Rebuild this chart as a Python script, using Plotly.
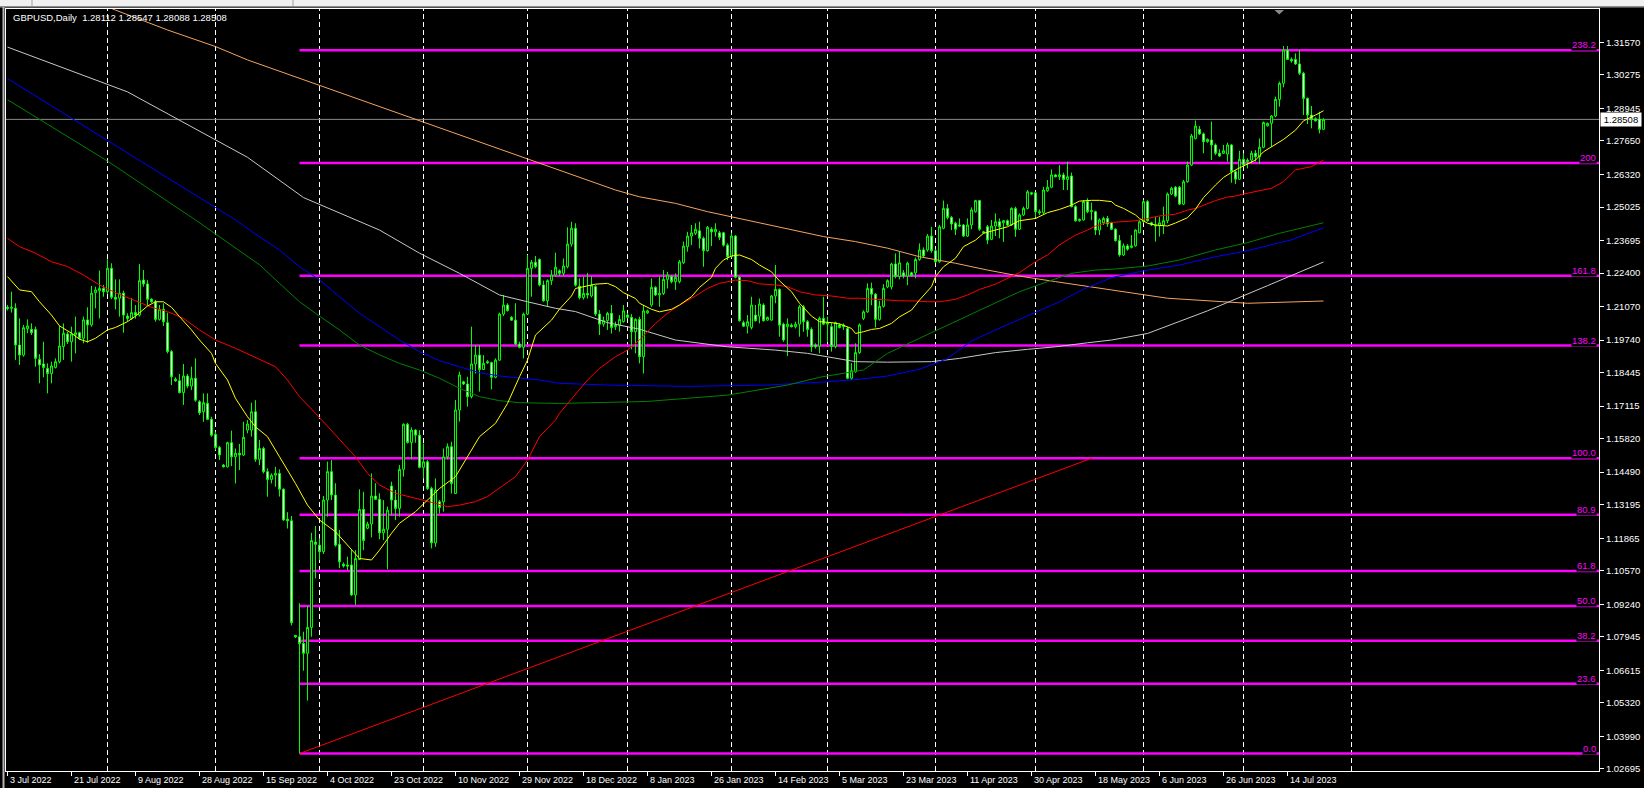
import plotly.graph_objects as go

# ---------------- data ----------------
bar_open = [
 1.2104,1.2100,1.2100,1.1954,1.1914,1.2019,1.2016,1.2016,1.1897,1.1879,
 1.1861,1.1841,1.1865,1.1888,1.1948,1.1998,1.1967,1.1994,1.2003,1.1981,
 1.2054,1.2034,1.2162,1.2170,1.2179,1.2166,1.2259,1.2144,1.2140,1.2160,
 1.2069,1.2060,1.2083,1.2073,1.2212,1.2197,1.2136,1.2126,1.2056,1.2096,
 1.2043,1.1928,1.1818,1.1812,1.1765,1.1831,1.1791,1.1822,1.1729,1.1689,
 1.1722,1.1659,1.1599,1.1547,1.1477,1.1470,1.1566,1.1510,1.1524,1.1517,
 1.1616,1.1616,1.1689,1.1500,1.1543,1.1451,1.1420,1.1437,1.1444,1.1381,
 1.1262,1.1256,1.0800,1.0795,1.0768,1.0729,1.0832,1.1171,1.1159,1.1133,
 1.1338,1.1451,1.1358,1.1162,1.1083,1.1080,1.1080,1.0961,1.1102,1.1301,
 1.1226,1.1243,1.1354,1.1341,1.1208,1.1222,1.1394,1.1338,1.1305,1.1460,
 1.1639,1.1567,1.1616,1.1596,1.1468,1.1490,1.1384,1.1168,1.1331,1.1331,
 1.1510,1.1550,1.1364,1.1696,1.1808,1.1799,1.1749,1.1879,1.1914,1.1857,
 1.1888,1.1884,1.1826,1.1894,1.2077,1.2113,1.2064,1.2053,1.1958,1.1945,
 1.2077,1.2259,1.2283,1.2294,1.2193,1.2130,1.2210,1.2232,1.2249,1.2239,
 1.2265,1.2355,1.2418,1.2188,1.2143,1.2159,1.2149,1.2186,1.2077,1.2037,
 1.2051,1.2080,1.2027,1.2033,1.2047,1.2073,1.2064,1.2007,1.2056,1.1908,
 1.2082,1.2113,1.2183,1.2153,1.2159,1.2215,1.2226,1.2206,1.2206,1.2281,
 1.2345,1.2387,1.2398,1.2408,1.2378,1.2329,1.2414,1.2404,1.2400,1.2400,
 1.2351,1.2305,1.2387,1.2223,1.2043,1.2029,1.2024,1.2073,1.2069,1.2113,
 1.2053,1.2053,1.2149,1.2175,1.2037,1.2027,1.2033,1.2027,1.2037,1.2106,
 1.2047,1.2016,1.1954,1.1950,1.2060,1.2037,1.2027,1.1948,1.2034,1.2027,
 1.2020,1.1822,1.1848,1.1924,1.2060,1.2086,1.2179,1.2156,1.2056,1.2108,
 1.2185,1.2185,1.2276,1.2226,1.2241,1.2228,1.2241,1.2241,1.2294,1.2332,
 1.2332,1.2387,1.2329,1.2285,1.2418,1.2497,1.2461,1.2438,1.2431,1.2431,
 1.2387,1.2431,1.2484,1.2528,1.2404,1.2424,1.2374,1.2427,1.2444,1.2440,
 1.2448,1.2431,1.2497,1.2414,1.2471,1.2497,1.2559,1.2559,1.2484,1.2480,
 1.2567,1.2581,1.2630,1.2623,1.2630,1.2612,1.2626,1.2504,1.2448,1.2451,
 1.2524,1.2484,1.2484,1.2411,1.2440,1.2457,1.2440,1.2414,1.2369,1.2312,
 1.2348,1.2342,1.2348,1.2400,1.2444,1.2524,1.2440,1.2431,1.2427,1.2431,
 1.2448,1.2554,1.2581,1.2581,1.2514,1.2603,1.2669,1.2775,1.2811,1.2793,
 1.2762,1.2769,1.2749,1.2716,1.2716,1.2713,1.2749,1.2643,1.2613,1.2692,
 1.2683,1.2689,1.2716,1.2702,1.2740,1.2825,1.2835,1.2864,1.2930,1.2994,
 1.3126,1.3089,1.3089,1.3071,1.3034,1.2934,1.2868,1.2853,1.2851,1.28112]
bar_high = [
 1.2113,1.2166,1.2120,1.2060,1.2034,1.2056,1.2040,1.2027,1.1918,1.1967,
 1.1881,1.1888,1.1901,1.2030,1.2040,1.2007,1.2027,1.2067,1.2007,1.2067,
 1.2104,1.2189,1.2186,1.2250,1.2193,1.2295,1.2279,1.2215,1.2215,1.2170,
 1.2080,1.2140,1.2113,1.2276,1.2252,1.2212,1.2140,1.2133,1.2113,1.2120,
 1.2083,1.1934,1.1826,1.1839,1.1879,1.1839,1.1868,1.1901,1.1735,1.1762,
 1.1762,1.1669,1.1610,1.1553,1.1481,1.1570,1.1614,1.1543,1.1561,1.1649,
 1.1656,1.1725,1.1735,1.1577,1.1550,1.1464,1.1444,1.1470,1.1460,1.1385,
 1.1290,1.1275,1.0802,1.0928,1.0815,1.0917,1.1208,1.1235,1.1186,1.1354,
 1.1491,1.1497,1.1405,1.1219,1.1090,1.1113,1.1139,1.1139,1.1381,1.1371,
 1.1252,1.1444,1.1405,1.1365,1.1338,1.1312,1.1411,1.1378,1.1477,1.1643,
 1.1645,1.1627,1.1620,1.1616,1.1563,1.1497,1.1391,1.1424,1.1338,1.1543,
 1.1563,1.1570,1.1736,1.1848,1.1812,1.1828,1.2027,1.1954,1.1954,1.1914,
 1.1894,1.1888,1.1901,1.2083,1.2153,1.2120,1.2069,1.2120,1.1967,1.2083,
 1.2312,1.2292,1.2308,1.2298,1.2210,1.2215,1.2252,1.2321,1.2255,1.2298,
 1.2422,1.2444,1.2438,1.2219,1.2226,1.2241,1.2228,1.2192,1.2093,1.2067,
 1.2086,1.2113,1.2047,1.2073,1.2113,1.2080,1.2077,1.2060,1.2067,1.2113,
 1.2095,1.2219,1.2188,1.2226,1.2252,1.2245,1.2232,1.2239,1.2292,1.2365,
 1.2404,1.2431,1.2438,1.2444,1.2385,1.2427,1.2422,1.2438,1.2408,1.2404,
 1.2358,1.2400,1.2391,1.2228,1.2051,1.2073,1.2146,1.2113,1.2139,1.2120,
 1.2067,1.2153,1.2272,1.2179,1.2043,1.2060,1.2040,1.2047,1.2113,1.2113,
 1.2053,1.2024,1.1961,1.2067,1.2146,1.2067,1.2043,1.2047,1.2040,1.2040,
 1.2027,1.1882,1.1961,1.2040,1.2092,1.2199,1.2202,1.2161,1.2130,1.2196,
 1.2215,1.2281,1.2318,1.2325,1.2252,1.2285,1.2245,1.2302,1.2358,1.2342,
 1.2395,1.2424,1.2334,1.2431,1.2528,1.2514,1.2467,1.2444,1.2457,1.2435,
 1.2457,1.2501,1.2530,1.2530,1.2408,1.2431,1.2451,1.2477,1.2457,1.2451,
 1.2453,1.2501,1.2504,1.2477,1.2504,1.2570,1.2563,1.2563,1.2493,1.2583,
 1.2610,1.2652,1.2634,1.2669,1.2639,1.2683,1.2639,1.2510,1.2457,1.2530,
 1.2537,1.2520,1.2488,1.2457,1.2464,1.2467,1.2444,1.2418,1.2391,1.2358,
 1.2355,1.2391,1.2414,1.2451,1.2530,1.2530,1.2444,1.2464,1.2464,1.2504,
 1.2560,1.2583,1.2586,1.2586,1.2610,1.2683,1.2793,1.2846,1.2824,1.2798,
 1.2775,1.2842,1.2755,1.2732,1.2749,1.2758,1.2753,1.2650,1.2726,1.2716,
 1.2696,1.2726,1.2729,1.2775,1.2842,1.2838,1.2868,1.2941,1.3001,1.3142,
 1.3142,1.3097,1.3113,1.3126,1.3040,1.2938,1.2904,1.2859,1.2881,1.28547]
bar_low = [
 1.2092,1.2083,1.1895,1.1875,1.1908,1.2001,1.1994,1.1868,1.1802,1.1826,
 1.1762,1.1802,1.1861,1.1881,1.1895,1.1958,1.1888,1.1921,1.1975,1.1961,
 1.1963,1.2027,1.2100,1.2060,1.2146,1.2157,1.2136,1.2096,1.2067,1.2003,
 1.2047,1.2054,1.2059,1.2067,1.2186,1.2109,1.2122,1.2047,1.2051,1.2030,
 1.1921,1.1795,1.1808,1.1762,1.1716,1.1782,1.1775,1.1729,1.1676,1.1649,
 1.1656,1.1590,1.1537,1.1497,1.1468,1.1468,1.1473,1.1404,1.1457,1.1513,
 1.1603,1.1590,1.1490,1.1477,1.1444,1.1351,1.1404,1.1391,1.1352,1.1256,
 1.1225,1.0840,1.0790,1.0331,1.0660,1.0541,1.0795,1.1027,1.1100,1.1124,
 1.1272,1.1338,1.1153,1.1067,1.1070,1.1060,1.0957,1.0921,1.1100,1.1139,
 1.1222,1.1190,1.1338,1.1182,1.1179,1.1063,1.1279,1.1259,1.1272,1.1431,
 1.1563,1.1500,1.1566,1.1464,1.1424,1.1378,1.1146,1.1152,1.1285,1.1292,
 1.1500,1.1364,1.1364,1.1650,1.1795,1.1709,1.1742,1.1841,1.1769,1.1855,
 1.1879,1.1778,1.1822,1.1892,1.2069,1.2087,1.2051,1.1954,1.1941,1.1901,
 1.2073,1.2146,1.2259,1.2187,1.2126,1.2106,1.2193,1.2226,1.2228,1.2228,
 1.2259,1.2345,1.2186,1.2135,1.2135,1.2139,1.2143,1.2069,1.1994,1.2027,
 1.2014,1.2000,1.2014,1.2007,1.2043,1.2060,1.1937,1.1921,1.1881,1.1841,
 1.2078,1.2106,1.2149,1.2106,1.2153,1.2179,1.2199,1.2173,1.2199,1.2276,
 1.2325,1.2351,1.2391,1.2338,1.2265,1.2325,1.2347,1.2385,1.2371,1.2345,
 1.2292,1.2302,1.2219,1.2047,1.2027,1.2000,1.2016,1.2047,1.2040,1.2047,
 1.2051,1.2051,1.2120,1.1987,1.1967,1.1910,1.2024,1.2020,1.1987,1.2007,
 1.1987,1.1927,1.1940,1.1921,1.2033,1.1967,1.1928,1.1941,1.2020,1.2014,
 1.1818,1.1815,1.1844,1.1919,1.2053,1.2082,1.2112,1.2024,1.2051,1.2103,
 1.2180,1.2175,1.2219,1.2215,1.2219,1.2192,1.2226,1.2219,1.2289,1.2302,
 1.2325,1.2321,1.2281,1.2281,1.2414,1.2453,1.2411,1.2391,1.2424,1.2384,
 1.2384,1.2414,1.2480,1.2408,1.2398,1.2355,1.2371,1.2387,1.2378,1.2364,
 1.2427,1.2427,1.2384,1.2411,1.2467,1.2493,1.2550,1.2461,1.2471,1.2475,
 1.2563,1.2577,1.2620,1.2610,1.2570,1.2570,1.2501,1.2444,1.2444,1.2448,
 1.2478,1.2450,1.2391,1.2391,1.2431,1.2424,1.2411,1.2365,1.2305,1.2308,
 1.2329,1.2338,1.2345,1.2398,1.2440,1.2444,1.2427,1.2365,1.2385,1.2395,
 1.2438,1.2550,1.2541,1.2510,1.2510,1.2599,1.2665,1.2771,1.2789,1.2716,
 1.2758,1.2689,1.2709,1.2702,1.2713,1.2683,1.2599,1.2594,1.2610,1.2663,
 1.2656,1.2676,1.2683,1.2673,1.2736,1.2822,1.2742,1.2859,1.2901,1.2978,
 1.3087,1.3076,1.3067,1.3027,1.2868,1.2832,1.2815,1.2842,1.2795,1.28088]
bar_close = [
 1.2100,1.2104,1.1954,1.1914,1.2023,1.2030,1.2003,1.1901,1.1875,1.1865,
 1.1841,1.1871,1.1888,1.1950,1.2001,1.1967,1.1998,1.2003,1.1981,1.2054,
 1.2034,1.2160,1.2173,1.2179,1.2166,1.2259,1.2144,1.2136,1.2160,1.2073,
 1.2060,1.2083,1.2073,1.2210,1.2197,1.2136,1.2126,1.2056,1.2096,1.2047,
 1.1928,1.1828,1.1812,1.1765,1.1831,1.1791,1.1822,1.1735,1.1685,1.1725,
 1.1659,1.1596,1.1547,1.1517,1.1470,1.1566,1.1510,1.1524,1.1517,1.1587,
 1.1640,1.1689,1.1500,1.1543,1.1451,1.1420,1.1437,1.1444,1.1381,1.1259,
 1.1256,1.0851,1.0795,1.0768,1.0729,1.0832,1.1177,1.1162,1.1133,1.1338,
 1.1451,1.1358,1.1159,1.1093,1.1076,1.1076,1.0961,1.1106,1.1301,1.1177,
 1.1243,1.1354,1.1341,1.1208,1.1222,1.1298,1.1338,1.1305,1.1460,1.1639,
 1.1567,1.1616,1.1596,1.1468,1.1490,1.1384,1.1168,1.1378,1.1309,1.1510,
 1.1550,1.1404,1.1696,1.1835,1.1799,1.1749,1.1879,1.1914,1.1857,1.1881,
 1.1884,1.1826,1.1894,1.2077,1.2113,1.2091,1.2053,1.1958,1.1945,1.2077,
 1.2259,1.2283,1.2266,1.2193,1.2130,1.2210,1.2232,1.2263,1.2239,1.2268,
 1.2355,1.2418,1.2192,1.2143,1.2159,1.2153,1.2192,1.2077,1.2037,1.2051,
 1.2080,1.2024,1.2033,1.2056,1.2090,1.2064,1.2007,1.2056,1.1908,1.2090,
 1.2090,1.2183,1.2153,1.2159,1.2215,1.2232,1.2206,1.2223,1.2285,1.2347,
 1.2387,1.2400,1.2414,1.2378,1.2329,1.2422,1.2404,1.2414,1.2382,1.2351,
 1.2305,1.2387,1.2223,1.2051,1.2029,1.2047,1.2113,1.2051,1.2117,1.2051,
 1.2064,1.2149,1.2175,1.2033,1.1974,1.2037,1.2027,1.2037,1.2106,1.2047,
 1.2016,1.1947,1.1947,1.2060,1.2037,1.2043,1.1948,1.2043,1.2024,1.2034,
 1.1822,1.1852,1.1924,1.2034,1.2086,1.2179,1.2156,1.2056,1.2108,1.2179,
 1.2210,1.2276,1.2226,1.2281,1.2228,1.2279,1.2230,1.2294,1.2332,1.2308,
 1.2387,1.2329,1.2285,1.2424,1.2497,1.2461,1.2435,1.2414,1.2427,1.2387,
 1.2431,1.2491,1.2528,1.2414,1.2400,1.2371,1.2427,1.2444,1.2424,1.2448,
 1.2431,1.2497,1.2414,1.2471,1.2497,1.2563,1.2554,1.2484,1.2480,1.2570,
 1.2581,1.2630,1.2623,1.2630,1.2612,1.2623,1.2504,1.2448,1.2453,1.2524,
 1.2484,1.2488,1.2411,1.2451,1.2457,1.2435,1.2414,1.2369,1.2312,1.2348,
 1.2335,1.2348,1.2411,1.2444,1.2524,1.2448,1.2431,1.2427,1.2440,1.2448,
 1.2554,1.2577,1.2546,1.2514,1.2603,1.2669,1.2785,1.2824,1.2793,1.2762,
 1.2771,1.2749,1.2716,1.2705,1.2726,1.2749,1.2643,1.2613,1.2692,1.2669,
 1.2689,1.2716,1.2702,1.2740,1.2838,1.2835,1.2864,1.2930,1.2994,1.3126,
 1.3089,1.3083,1.3071,1.3034,1.2934,1.2868,1.2851,1.2845,1.2811,1.28508]
bars = list(range(len(bar_close)))

# moving averages (bar index -> price)
ma_yellow_bars = [0,3,6,8,11,13,16,18,20,22,25,27,30,32,35,37,39,41,43,46,48,51,52,55,57,60,62,65,68,72,
                  75,78,82,85,88,91,93,96,98,102,105,108,112,115,118,122,125,128,130,132,136,138,141,142,145,
                  147,150,152,154,157,158,161,163,166,168,171,173,176,177,179,181,183,186,188,191,193,196,198,
                  201,203,206,208,211,212,214,216,218,221,223,226,228,231,232,234,237,239,242,244,247,250,253,
                  257,260,263,266,268,271,273,276,277,279,282,283,285,287,290,292,295,297,299,302,304,307,309,
                  312,314,317,319,322,324,327,329]
ma_yellow = [1.2226,1.2173,1.2166,1.2126,1.2073,1.2030,1.2001,1.1977,1.1967,1.1981,1.2014,1.2024,1.2047,1.2069,
             1.2109,1.2126,1.2126,1.2104,1.2067,1.2014,1.1974,1.1921,1.1881,1.1815,1.1742,1.1669,1.1629,1.1590,
             1.1510,1.1404,1.1318,1.1259,1.1212,1.1159,1.1106,1.1100,1.1139,1.1206,1.1246,1.1292,1.1338,1.1384,
             1.1431,1.1510,1.1590,1.1643,1.1722,1.1828,1.1894,1.1994,1.2053,1.2097,1.2149,1.2179,1.2188,1.2196,
             1.2199,1.2186,1.2162,1.2139,1.2120,1.2096,1.2086,1.2096,1.2113,1.2146,1.2183,1.2223,1.2259,1.2292,
             1.2308,1.2312,1.2294,1.2272,1.2245,1.2209,1.2166,1.2120,1.2069,1.2047,1.2043,1.2038,1.2020,1.2000,
             1.2007,1.2016,1.2020,1.2040,1.2066,1.2093,1.2133,1.2186,1.2226,1.2265,1.2299,1.2345,1.2371,1.2398,
             1.2411,1.2424,1.2448,1.2457,1.2480,1.2493,1.2510,1.2526,1.2529,1.2529,1.2524,1.2510,1.2497,1.2471,
             1.2457,1.2438,1.2431,1.2427,1.2439,1.2460,1.2494,1.2540,1.2590,1.2620,1.2650,1.2666,1.2689,1.2722,
             1.2753,1.2771,1.2808,1.2845,1.2868,1.2885]
ma_red_bars = [0,3,7,11,15,19,23,27,32,36,40,44,48,52,57,61,65,67,70,73,77,80,83,87,90,93,97,100,103,107,110,
               113,117,120,123,127,130,133,137,138,145,148,152,155,158,162,165,168,172,175,178,182,185,188,192,
               195,198,202,206,210,213,217,220,223,227,230,233,237,240,243,247,250,253,257,260,263,267,270,272,
               275,278,282,285,288,292,295,297,300,302,305,307,309,311,312,316,319,322,326,329]
ma_red = [1.2378,1.2345,1.2319,1.2285,1.2266,1.2232,1.2193,1.2162,1.2130,1.2104,1.2087,1.2060,1.2014,1.1974,
          1.1941,1.1911,1.1884,1.1868,1.1815,1.1749,1.1683,1.1630,1.1577,1.1510,1.1444,1.1398,1.1365,1.1352,
          1.1341,1.1325,1.1312,1.1318,1.1332,1.1352,1.1385,1.1431,1.1497,1.1590,1.1656,1.1683,1.1815,1.1861,
          1.1908,1.1934,1.1974,1.2040,1.2080,1.2113,1.2149,1.2179,1.2199,1.2212,1.2210,1.2197,1.2193,1.2186,
          1.2166,1.2153,1.2149,1.2140,1.2140,1.2136,1.2133,1.2130,1.2129,1.2126,1.2126,1.2136,1.2153,1.2175,
          1.2196,1.2219,1.2242,1.2285,1.2312,1.2352,1.2391,1.2411,1.2427,1.2440,1.2444,1.2448,1.2457,1.2467,
          1.2474,1.2490,1.2497,1.2516,1.2528,1.2542,1.2546,1.2554,1.2560,1.2564,1.2577,1.2603,1.2650,1.2663,
          1.2689]
ma_green_bars = [0,25,47,57,63,68,73,78,83,88,93,98,103,108,113,118,123,128,138,160,180,195,203,214,220,228,
                 237,245,253,260,266,272,276,285,293,302,310,318,329]
ma_green = [1.2929,1.2685,1.2451,1.2340,1.2273,1.2199,1.2126,1.2069,1.2014,1.1954,1.1915,1.1881,1.1855,1.1822,
            1.1782,1.1749,1.1733,1.1725,1.1722,1.1730,1.1755,1.1795,1.1826,1.1855,1.1921,1.1981,1.2047,1.2107,
            1.2166,1.2206,1.2239,1.2252,1.2255,1.2268,1.2292,1.2332,1.2361,1.2398,1.2440]
ma_blue_bars = [0,25,57,63,68,73,78,83,88,93,98,103,108,113,118,123,128,133,138,150,170,190,205,213,220,228,
                235,241,247,253,258,263,269,276,285,293,302,310,321,329]
ma_blue = [1.3013,1.2765,1.2451,1.2384,1.2332,1.2265,1.2213,1.2146,1.2080,1.2027,1.1974,1.1928,1.1892,1.1868,
           1.1844,1.1831,1.1822,1.1815,1.1802,1.1795,1.1790,1.1795,1.1808,1.1818,1.1831,1.1858,1.1900,1.1970,
           1.2014,1.2057,1.2093,1.2126,1.2176,1.2222,1.2252,1.2272,1.2305,1.2329,1.2372,1.2420]
ma_white_bars = [0,30,60,74,93,103,113,123,130,137,142,150,158,167,180,192,200,205,212,220,231,238,247,255,
                 262,270,276,285,300,315,329]
ma_white = [1.3138,1.2960,1.2700,1.2540,1.2411,1.2319,1.2239,1.2153,1.2126,1.2100,1.2087,1.2043,1.2017,1.1974,
            1.1947,1.1934,1.1921,1.1908,1.1888,1.1886,1.1888,1.1901,1.1924,1.1937,1.1947,1.1963,1.1974,1.2000,
            1.2090,1.2190,1.2284]
ma_orange_bars = [20,27,40,52,60,100,130,152,158,167,175,183,192,200,204,212,220,228,237,245,253,262,270,276,
                  290,310,329]
ma_orange = [1.3330,1.3285,1.3206,1.3140,1.3087,1.2862,1.2693,1.2570,1.2543,1.2517,1.2484,1.2457,1.2424,1.2400,
             1.2385,1.2365,1.2339,1.2305,1.2279,1.2252,1.2228,1.2206,1.2186,1.2173,1.2140,1.2120,1.2129]

# Fibonacci object (anchors) and its levels
fib_anchor_bars = [73, 271]
fib_anchor_prices = [1.0331, 1.1504]
fib_ratios = [0.0, 23.6, 38.2, 50.0, 61.8, 80.9, 100.0, 138.2, 161.8, 200.0, 238.2]
fib_labels = ["0.0", "23.6", "38.2", "50.0", "61.8", "80.9", "100.0", "138.2", "161.8", "200", "238.2"]

current_price = 1.28508
chart_title = "GBPUSD,Daily\u00a0 1.28112 1.28547 1.28088 1.28508"

price_ticks = [1.31570, 1.30275, 1.28945, 1.27650, 1.26320, 1.25025, 1.23695, 1.22400, 1.21070, 1.19740,
               1.18445, 1.17115, 1.15820, 1.14490, 1.13195, 1.11865, 1.10570, 1.09240, 1.07945, 1.06615,
               1.05320, 1.03990, 1.02695]
date_label_bars = [0, 16, 32, 48, 64, 80, 96, 112, 128, 144, 160, 176, 192, 208, 224, 240, 256, 272, 288, 304, 320]
date_labels = ["3 Jul 2022", "21 Jul 2022", "9 Aug 2022", "28 Aug 2022", "15 Sep 2022", "4 Oct 2022",
               "23 Oct 2022", "10 Nov 2022", "29 Nov 2022", "18 Dec 2022", "8 Jan 2023", "26 Jan 2023",
               "14 Feb 2023", "5 Mar 2023", "23 Mar 2023", "11 Apr 2023", "30 Apr 2023", "18 May 2023",
               "6 Jun 2023", "26 Jun 2023", "14 Jul 2023"]
month_start_bars = [25, 52, 78, 104, 130, 155, 181, 205, 232, 257, 284, 309, 336]

# ---------------- figure ----------------
W, H = 1644, 788
ML, MR, MT, MB = 6, 45, 9, 17
X_RANGE = [-0.375, 397.875]
Y_RANGE = [1.02615, 1.32893]
FONT = "Liberation Sans, Arial, sans-serif"
LIME = "#00FF00"
MAGENTA = "#FF00FF"

fig = go.Figure()

fig.add_trace(go.Candlestick(
    x=bars, open=bar_open, high=bar_high, low=bar_low, close=bar_close,
    increasing=dict(line=dict(color=LIME, width=1), fillcolor="#000000"),
    decreasing=dict(line=dict(color=LIME, width=1), fillcolor="#FFFFFF"),
    whiskerwidth=0, hoverinfo="skip", showlegend=False))

for xs, ys, col in [(ma_orange_bars, ma_orange, "#F4A460"),
                    (ma_white_bars, ma_white, "#C8C8C8"),
                    (ma_blue_bars, ma_blue, "#0000FF"),
                    (ma_green_bars, ma_green, "#008000"),
                    (ma_red_bars, ma_red, "#FF0000"),
                    (ma_yellow_bars, ma_yellow, "#FFFF00")]:
    fig.add_trace(go.Scatter(x=xs, y=ys, mode="lines", line=dict(color=col, width=1),
                             hoverinfo="skip", showlegend=False))

shapes = []
for b in month_start_bars:
    shapes.append(dict(type="line", xref="x", yref="paper", x0=b, x1=b, y0=0, y1=1,
                       line=dict(color="#FFFFFF", width=1, dash="5px,3px"), layer="below"))
shapes.append(dict(type="line", xref="paper", yref="y", x0=0, x1=1, y0=current_price, y1=current_price,
                   line=dict(color="#8C8C8C", width=1), layer="below"))
lo, hi = fib_anchor_prices
for r in fib_ratios:
    lvl = lo + (hi - lo) * r / 100.0
    shapes.append(dict(type="line", xref="x", yref="y", x0=fib_anchor_bars[0], x1=X_RANGE[1],
                       y0=lvl, y1=lvl, line=dict(color=MAGENTA, width=2.5), layer="below"))
shapes.append(dict(type="line", xref="x", yref="y", x0=fib_anchor_bars[0], x1=fib_anchor_bars[1],
                   y0=lo, y1=hi, line=dict(color="#FF0000", width=1), layer="below"))

pw = W - ML - MR
ph = H - MT - MB
def px(xp): return (xp - ML) / pw
def py(yp): return 1 - (yp - MT) / ph
shapes.append(dict(type="rect", xref="paper", yref="paper", x0=px(0), x1=px(W), y0=py(6.5), y1=py(0),
                   fillcolor="#F0F0F0", line=dict(width=0)))
shapes.append(dict(type="line", xref="paper", yref="paper", x0=px(0), x1=px(W), y0=py(7), y1=py(7),
                   line=dict(color="#A0A0A0", width=1)))
for sx in [32, 293]:
    shapes.append(dict(type="line", xref="paper", yref="paper", x0=px(sx), x1=px(sx), y0=py(6.5), y1=py(0),
                       line=dict(color="#A0A0A0", width=1)))
shapes.append(dict(type="rect", xref="paper", yref="paper", x0=px(2.5), x1=px(4.5), y0=py(H), y1=py(7),
                   fillcolor="#B4B4B4", line=dict(width=0)))
shapes.append(dict(type="path", xref="paper", yref="paper",
                   path=f"M {px(1274.5)} {py(10)} L {px(1284)} {py(10)} L {px(1279.2)} {py(14.5)} Z",
                   fillcolor="#8A8A8A", line=dict(width=0)))

annotations = []
for r, lab in zip(fib_ratios, fib_labels):
    lvl = lo + (hi - lo) * r / 100.0
    annotations.append(dict(x=X_RANGE[1], y=lvl, xref="x", yref="y", text=lab, showarrow=False,
                            xanchor="right", yanchor="bottom", xshift=-2, yshift=-1,
                            font=dict(family=FONT, size=9.5, color=MAGENTA),
                            bgcolor="#000000", borderpad=0))
for b, lab in zip(date_label_bars, date_labels):
    annotations.append(dict(x=b, y=0, xref="x", yref="paper", text=lab, showarrow=False,
                            xanchor="left", yanchor="top", xshift=0, yshift=-2,
                            font=dict(family=FONT, size=9, color="#FFFFFF")))
annotations.append(dict(x=px(11), y=py(17), xref="paper", yref="paper", text=chart_title, showarrow=False,
                        xanchor="left", yanchor="middle",
                        font=dict(family=FONT, size=9.5, color="#FFFFFF")))
annotations.append(dict(x=1, y=current_price, xref="paper", yref="y", text=f"{current_price:.5f}",
                        showarrow=False, xanchor="left", yanchor="middle", xshift=1,
                        font=dict(family=FONT, size=9.5, color="#000000"),
                        bgcolor="#FFFFFF", borderpad=1, width=38))

fig.update_layout(
    width=W, height=H, margin=dict(l=ML, r=MR, t=MT, b=MB, pad=0),
    paper_bgcolor="#000000", plot_bgcolor="#000000",
    showlegend=False, hovermode=False,
    shapes=shapes, annotations=annotations,
    xaxis=dict(range=X_RANGE, showgrid=False, zeroline=False, showline=True, mirror=True,
               linecolor="#FFFFFF", linewidth=1, ticks="outside", ticklen=4, tickcolor="#FFFFFF",
               tickvals=date_label_bars, showticklabels=False, rangeslider=dict(visible=False),
               fixedrange=True, automargin=False),
    yaxis=dict(range=Y_RANGE, side="right", showgrid=False, zeroline=False, showline=True, mirror=True,
               linecolor="#FFFFFF", linewidth=1, ticks="outside", ticklen=4, tickcolor="#FFFFFF",
               tickvals=price_ticks, ticktext=[f"{v:.5f}" for v in price_ticks],
               tickfont=dict(family=FONT, size=9.5, color="#FFFFFF"), fixedrange=True, automargin=False),
)

fig.write_html("out.html", config={"displayModeBar": False},
               post_script="document.body.style.margin='0px';document.body.style.overflow='hidden';")
